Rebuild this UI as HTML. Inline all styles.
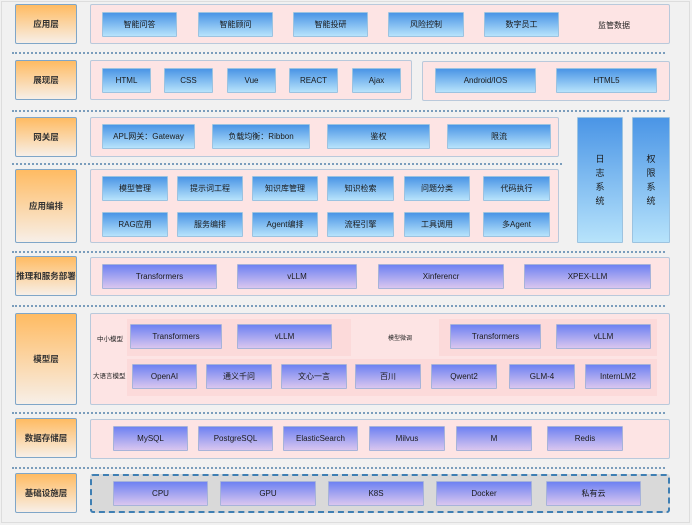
<!DOCTYPE html>
<html><head><meta charset="utf-8"><style>
*{margin:0;padding:0;box-sizing:border-box}
body{width:692px;height:525px;background:#f1f1f1;position:relative;overflow:hidden;font-family:"Liberation Sans","Noto Sans CJK SC",sans-serif;font-size:8px;color:#222}
.a{position:absolute;display:flex;align-items:center;justify-content:center;text-align:center}
.L{background:linear-gradient(#ffbb62,#f7efe8);border:1px solid #7fa6c8;border-radius:2px;font-size:8.5px;font-weight:bold;color:#333}
.P{background:#fde4e4;border:1px solid #b9c9db;border-radius:2px}
.S{background:#fcdada}
.B{background:linear-gradient(#4a95e6,#b7e3fb);border:1px solid #9cc3e0;border-radius:1px;color:#1a1a1a}
.U{background:linear-gradient(#6e82f2,#d9c6ef);border:1px solid #a7b3d9;border-radius:1px;color:#1a1a1a}
.D{position:absolute;height:0;border-top:2px dotted #7a9dbc}
.T{position:absolute;font-size:8px}
.V{flex-direction:column;font-size:9px;line-height:14px}
</style></head><body>
<div style="position:absolute;left:1px;top:1px;width:689px;height:522px;border:1px solid #ddd"></div>
<div class="a L" style="left:15px;top:4px;width:62px;height:40px">应用层</div>
<div class="a P" style="left:90px;top:4px;width:580px;height:40px"></div>
<div class="a B" style="left:102px;top:12px;width:75px;height:25px">智能问答</div>
<div class="a B" style="left:198px;top:12px;width:75px;height:25px">智能顾问</div>
<div class="a B" style="left:293px;top:12px;width:75px;height:25px">智能投研</div>
<div class="a B" style="left:388px;top:12px;width:76px;height:25px">风险控制</div>
<div class="a B" style="left:484px;top:12px;width:75px;height:25px">数字员工</div>
<div class="T" style="left:598px;top:20px">监管数据</div>
<div class="D" style="left:12px;top:52px;width:653px"></div>
<div class="a L" style="left:15px;top:60px;width:62px;height:40px">展现层</div>
<div class="a P" style="left:90px;top:60px;width:322px;height:40px"></div>
<div class="a P" style="left:422px;top:61px;width:248px;height:40px"></div>
<div class="a B" style="left:102px;top:68px;width:49px;height:25px">HTML</div>
<div class="a B" style="left:164px;top:68px;width:49px;height:25px">CSS</div>
<div class="a B" style="left:227px;top:68px;width:49px;height:25px">Vue</div>
<div class="a B" style="left:289px;top:68px;width:49px;height:25px">REACT</div>
<div class="a B" style="left:352px;top:68px;width:49px;height:25px">Ajax</div>
<div class="a B" style="left:435px;top:68px;width:101px;height:25px">Android/IOS</div>
<div class="a B" style="left:556px;top:68px;width:101px;height:25px">HTML5</div>
<div class="D" style="left:12px;top:110px;width:653px"></div>
<div class="a L" style="left:15px;top:117px;width:62px;height:40px">网关层</div>
<div class="a P" style="left:90px;top:117px;width:469px;height:40px"></div>
<div class="a B" style="left:102px;top:124px;width:93px;height:25px">APL网关：Gateway</div>
<div class="a B" style="left:212px;top:124px;width:98px;height:25px">负载均衡：Ribbon</div>
<div class="a B" style="left:327px;top:124px;width:103px;height:25px">鉴权</div>
<div class="a B" style="left:447px;top:124px;width:104px;height:25px">限流</div>
<div class="a B V" style="left:577px;top:117px;width:46px;height:126px">日<br>志<br>系<br>统</div>
<div class="a B V" style="left:632px;top:117px;width:38px;height:126px">权<br>限<br>系<br>统</div>
<div class="D" style="left:12px;top:163px;width:550px"></div>
<div class="a L" style="left:15px;top:169px;width:62px;height:74px">应用编排</div>
<div class="a P" style="left:90px;top:169px;width:469px;height:74px"></div>
<div class="a B" style="left:102px;top:176px;width:66px;height:25px">模型管理</div>
<div class="a B" style="left:177px;top:176px;width:66px;height:25px">提示词工程</div>
<div class="a B" style="left:252px;top:176px;width:66px;height:25px">知识库管理</div>
<div class="a B" style="left:327px;top:176px;width:67px;height:25px">知识检索</div>
<div class="a B" style="left:404px;top:176px;width:66px;height:25px">问题分类</div>
<div class="a B" style="left:483px;top:176px;width:67px;height:25px">代码执行</div>
<div class="a B" style="left:102px;top:212px;width:66px;height:25px">RAG应用</div>
<div class="a B" style="left:177px;top:212px;width:66px;height:25px">服务编排</div>
<div class="a B" style="left:252px;top:212px;width:66px;height:25px">Agent编排</div>
<div class="a B" style="left:327px;top:212px;width:67px;height:25px">流程引擎</div>
<div class="a B" style="left:404px;top:212px;width:66px;height:25px">工具调用</div>
<div class="a B" style="left:483px;top:212px;width:67px;height:25px">多Agent</div>
<div class="D" style="left:12px;top:251px;width:653px"></div>
<div class="a L" style="left:15px;top:256px;width:62px;height:40px">推理和服务部署</div>
<div class="a P" style="left:90px;top:257px;width:580px;height:39px"></div>
<div class="a U" style="left:102px;top:264px;width:115px;height:25px">Transformers</div>
<div class="a U" style="left:237px;top:264px;width:120px;height:25px">vLLM</div>
<div class="a U" style="left:378px;top:264px;width:126px;height:25px">Xinferencr</div>
<div class="a U" style="left:524px;top:264px;width:127px;height:25px">XPEX-LLM</div>
<div class="D" style="left:12px;top:305px;width:653px"></div>
<div class="a L" style="left:15px;top:313px;width:62px;height:92px">模型层</div>
<div class="a P" style="left:90px;top:313px;width:580px;height:92px"></div>
<div class="a S" style="left:127px;top:319px;width:224px;height:37px"></div>
<div class="a S" style="left:439px;top:319px;width:218px;height:37px"></div>
<div class="a S" style="left:127px;top:359px;width:530px;height:37px"></div>
<div class="T" style="left:97px;top:333px;font-size:6.5px">中小模型</div>
<div class="T" style="left:93px;top:370px;font-size:6.5px">大语言模型</div>
<div class="T" style="left:388px;top:333px;font-size:6px">模型微调</div>
<div class="a U" style="left:130px;top:324px;width:92px;height:25px">Transformers</div>
<div class="a U" style="left:237px;top:324px;width:95px;height:25px">vLLM</div>
<div class="a U" style="left:450px;top:324px;width:91px;height:25px">Transformers</div>
<div class="a U" style="left:556px;top:324px;width:95px;height:25px">vLLM</div>
<div class="a U" style="left:132px;top:364px;width:65px;height:25px">OpenAI</div>
<div class="a U" style="left:206px;top:364px;width:66px;height:25px">通义千问</div>
<div class="a U" style="left:281px;top:364px;width:66px;height:25px">文心一言</div>
<div class="a U" style="left:355px;top:364px;width:66px;height:25px">百川</div>
<div class="a U" style="left:431px;top:364px;width:66px;height:25px">Qwent2</div>
<div class="a U" style="left:509px;top:364px;width:66px;height:25px">GLM-4</div>
<div class="a U" style="left:585px;top:364px;width:66px;height:25px">InternLM2</div>
<div class="D" style="left:12px;top:412px;width:653px"></div>
<div class="a L" style="left:15px;top:418px;width:62px;height:40px">数据存储层</div>
<div class="a P" style="left:90px;top:419px;width:580px;height:40px"></div>
<div class="a U" style="left:113px;top:426px;width:75px;height:25px">MySQL</div>
<div class="a U" style="left:198px;top:426px;width:75px;height:25px">PostgreSQL</div>
<div class="a U" style="left:283px;top:426px;width:75px;height:25px">ElasticSearch</div>
<div class="a U" style="left:369px;top:426px;width:76px;height:25px">Milvus</div>
<div class="a U" style="left:456px;top:426px;width:76px;height:25px">M</div>
<div class="a U" style="left:547px;top:426px;width:76px;height:25px">Redis</div>
<div class="D" style="left:12px;top:467px;width:653px"></div>
<div class="a L" style="left:15px;top:473px;width:62px;height:40px">基础设施层</div>
<div class="a" style="left:90px;top:474px;width:580px;height:39px;background:#d9d9d9;border:2px dashed #3f7fb3;border-radius:3px"></div>
<div class="a U" style="left:113px;top:481px;width:95px;height:25px">CPU</div>
<div class="a U" style="left:220px;top:481px;width:96px;height:25px">GPU</div>
<div class="a U" style="left:328px;top:481px;width:96px;height:25px">K8S</div>
<div class="a U" style="left:436px;top:481px;width:96px;height:25px">Docker</div>
<div class="a U" style="left:546px;top:481px;width:95px;height:25px">私有云</div>
</body></html>
